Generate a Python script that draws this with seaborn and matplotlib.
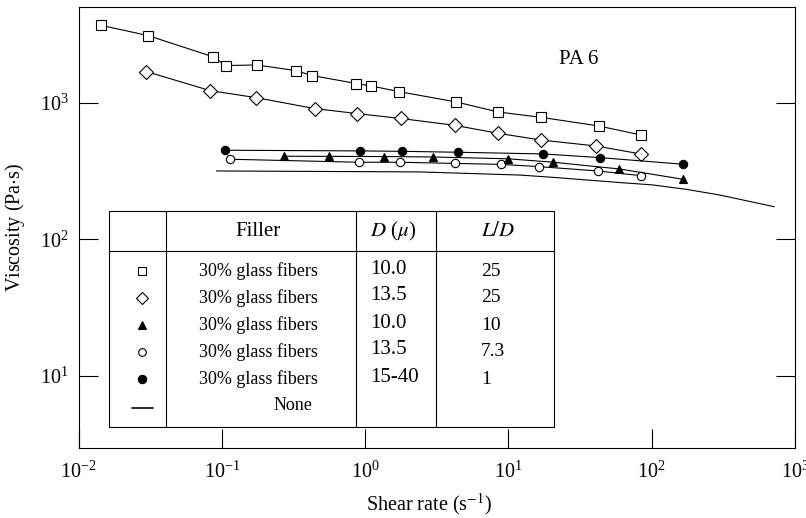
import matplotlib
matplotlib.use("Agg")
import matplotlib.pyplot as plt
from matplotlib.lines import Line2D
from matplotlib.patches import Rectangle
from matplotlib.ticker import LogLocator, NullLocator
import seaborn as sns

# 30% glass fibers, D = 10.0, L/D = 25 (open squares)
sq_rate = [0.01425, 0.0305, 0.0861, 0.1066, 0.1746, 0.3266, 0.4246, 0.867, 1.104,
           1.718, 4.32, 8.49, 16.9, 42.7, 83.6]
sq_visc = [3675, 3090, 2167, 1865, 1884, 1714, 1577, 1378, 1322,
           1203, 1010, 853, 780, 674, 580]

# 30% glass fibers, D = 13.5, L/D = 25 (open diamonds)
dm_rate = [0.0296, 0.0824, 0.1717, 0.443, 0.875, 1.766, 4.21, 8.44, 16.9, 41.0, 83.6]
dm_visc = [1687, 1224, 1088, 904, 831, 765, 682, 596, 532, 481, 421]

# 30% glass fibers, D = 10.0, L/D = 10 (filled triangles)
tr_rate = [0.271, 0.558, 1.35, 2.95, 9.93, 20.6, 59.3, 165]
tr_visc = [405, 404, 403, 400, 388, 366, 327, 275]

# 30% glass fibers, D = 13.5, L/D = 7.3 (open circles)
oc_rate = [0.1146, 0.90, 1.75, 4.21, 8.91, 16.3, 42.1, 84.0]
oc_visc = [385, 366, 366, 359, 353, 340, 316, 292]

# 30% glass fibers, D = 15-40, L/D = 1 (filled circles)
fc_rate = [0.1057, 0.914, 1.81, 4.47, 17.5, 43.2, 165]
fc_visc = [448, 443, 440, 433, 421, 396, 354]

# Unfilled PA 6 (plain curve)
nf_rate = [0.0916, 0.35, 2.4, 12.0, 20.3, 59.6, 101, 174, 297, 719]
nf_visc = [316, 314, 311, 295, 284, 260, 250, 232, 211, 173]

# Legend table contents
tbl_header = ["Filler", r"$D$ ($\mu$)", r"$L/D$"]
tbl_filler = ["30% glass fibers"] * 5 + ["None"]
tbl_diam = ["10.0", "13.5", "10.0", "13.5", "15-40", ""]
tbl_ratio = ["25", "25", "10", "7.3", "1", ""]

sns.set_theme(style="ticks")
plt.rcParams["font.family"] = ["Liberation Serif", "DejaVu Serif"]
plt.rcParams["mathtext.fontset"] = "stix"
plt.rcParams["axes.linewidth"] = 0.8

W, H = 806, 518
fig = plt.figure(figsize=(W / 100, H / 100), dpi=100)
X0, X1, Y0, Y1 = 78.7, 795.0, 7.0, 447.5
ax = fig.add_axes([X0 / W, 1 - Y1 / H, (X1 - X0) / W, (Y1 - Y0) / H])

line_kw = dict(color="black", linewidth=0.8, estimator=None, sort=False,
               markeredgecolor="black", markeredgewidth=0.8, ax=ax)

sns.lineplot(x=nf_rate, y=nf_visc, **line_kw)
sns.lineplot(x=sq_rate, y=sq_visc, marker="s", markersize=7,
             markerfacecolor="white", **line_kw)
sns.lineplot(x=dm_rate, y=dm_visc, marker="D", markersize=7,
             markerfacecolor="white", **line_kw)
sns.lineplot(x=oc_rate, y=oc_visc, marker="o", markersize=6,
             markerfacecolor="white", **line_kw)
sns.lineplot(x=tr_rate, y=tr_visc, marker="^", markersize=6,
             markerfacecolor="black", **line_kw)
sns.lineplot(x=fc_rate, y=fc_visc, marker="o", markersize=6,
             markerfacecolor="black", **line_kw)

ax.set_xscale("log")
ax.set_yscale("log")
ax.set_xlim(1e-2, 1e3)
ax.set_ylim(3, 5000)
for axis in (ax.xaxis, ax.yaxis):
    axis.set_major_locator(LogLocator(base=10, numticks=12))
    axis.set_minor_locator(NullLocator())
ax.tick_params(which="major", direction="in", length=13.7, width=0.8,
               top=False, right=True, labelsize=14.5, color="black",
               labelcolor="black")
ax.tick_params(axis="x", pad=10)
ax.tick_params(axis="y", pad=7)
for s in ax.spines.values():
    s.set_color("black")
    s.set_linewidth(0.8)

ax.set_xlabel(r"Shear rate (s$^{-1}$)", fontsize=14.5, color="black")
ax.set_ylabel(r"Viscosity (Pa$\cdot$s)", fontsize=14.5, color="black")
ax.xaxis.set_label_coords((429 - X0) / (X1 - X0), (Y1 - 491) / (Y1 - Y0))
ax.yaxis.set_label_coords((27 - X0) / (X1 - X0), 0.5)


def P(px, py):
    """Pixel position on the canvas -> axes fraction."""
    return (px - X0) / (X1 - X0), (Y1 - py) / (Y1 - Y0)


ax.text(*P(579, 59), "PA 6", transform=ax.transAxes, ha="center",
        va="center", fontsize=15, color="black")

# Legend table
tl, tr_, tt, tb = 109.3, 554.0, 210.7, 427.3
bx, by = P(tl, tb)
bx2, by2 = P(tr_, tt)
ax.add_patch(Rectangle((bx, by), bx2 - bx, by2 - by, transform=ax.transAxes,
                       facecolor="white", edgecolor="black", linewidth=0.8,
                       zorder=5))
for cx in (166.0, 356.5, 436.0):
    ax.add_line(Line2D([P(cx, 0)[0]] * 2, [by, by2], transform=ax.transAxes,
                       color="black", linewidth=0.8, zorder=6))
hy = P(0, 250.7)[1]
ax.add_line(Line2D([bx, bx2], [hy, hy], transform=ax.transAxes,
                   color="black", linewidth=0.8, zorder=6))

hdr_x = [258, 393, 498]
for hx, txt in zip(hdr_x, tbl_header):
    ax.text(*P(hx, 231), txt, transform=ax.transAxes, ha="center",
            va="center", fontsize=15, color="black", zorder=7)

row_y = [271, 298, 325, 352, 379, 406]
fill_x = [258, 258, 258, 258, 258, 293]
mk_style = [("s", "white", 6), ("D", "white", 6), ("^", "black", 5.5),
            ("o", "white", 5.5), ("o", "black", 6)]
for i, ry in enumerate(row_y):
    ax.text(*P(fill_x[i], ry), tbl_filler[i], transform=ax.transAxes,
            ha="center", va="center", fontsize=13, color="black", zorder=7)
    if tbl_diam[i]:
        ax.text(*P(370, ry - 2), tbl_diam[i], transform=ax.transAxes,
                ha="left", va="center", fontsize=15, color="black", zorder=7)
    if tbl_ratio[i]:
        ax.text(*P(481, ry), tbl_ratio[i], transform=ax.transAxes,
                ha="left", va="center", fontsize=14, color="black", zorder=7)
    if i < len(mk_style):
        m, fc, ms = mk_style[i]
        mx, my = P(141.7, ry)
        ax.add_line(Line2D([mx], [my], transform=ax.transAxes, marker=m,
                           markersize=ms, markerfacecolor=fc,
                           markeredgecolor="black", markeredgewidth=0.8,
                           linestyle="none", zorder=7))
    else:
        lx1, ly = P(132, ry + 2.3)
        lx2, _ = P(153, ry + 2.3)
        ax.add_line(Line2D([lx1, lx2], [ly, ly], transform=ax.transAxes,
                           color="black", linewidth=1.2, zorder=7))

fig.savefig("out.png", dpi=100, facecolor="white")
